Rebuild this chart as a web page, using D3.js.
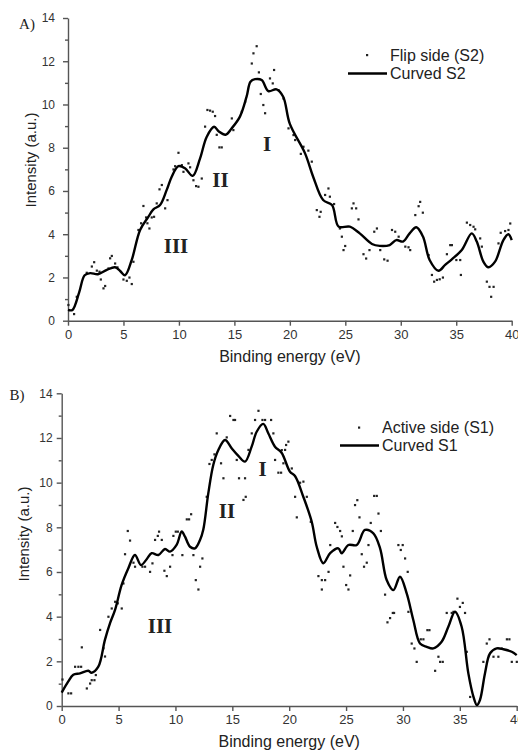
<!DOCTYPE html>
<html>
<head>
<meta charset="utf-8">
<script src="https://cdn.jsdelivr.net/npm/d3@7/dist/d3.min.js"></script>
<style>
  body { margin: 0; background: #fff; }
  svg { display: block; font-family: "Liberation Sans", Arial, sans-serif; }
</style>
</head>
<body>
<svg id="chart" width="518" height="751"></svg>
<script>
// axis ticks
const xTicks = [0, 5, 10, 15, 20, 25, 30, 35, 40];
const yTicks = [0, 2, 4, 6, 8, 10, 12, 14];
const yMinorTicks = [1, 3, 5, 7, 9, 11, 13];

// panel A: flip side (S2)
const s2Curve = [[0,0.5],[0.4,0.5],[1.0,1.3],[1.5,2.1],[2.0,2.2],[2.7,2.15],[3.5,2.35],[4.24,2.47],[4.7,2.3],[5.14,2.1],[5.74,2.8],
  [6.5,4.2],[7.24,4.8],[7.7,5.15],[8.3,5.35],[8.9,6.05],[9.35,6.66],[9.95,7.15],[10.55,7.05],[11.24,6.7],[11.9,7.5],[12.5,8.5],
  [13.17,8.97],[13.6,8.75],[14.2,8.6],[14.76,8.9],[15.5,9.44],[16.1,10.36],[16.45,11.05],[16.86,11.17],[17.46,11.13],[18.06,10.62],
  [18.8,10.7],[19.4,10.36],[20.0,9.1],[21.37,7.74],[22.1,6.66],[23.0,5.58],[23.8,5.35],[24.4,4.35],[25.4,4.35],[26.3,4.04],
  [27.4,3.55],[28.1,3.46],[29.0,3.5],[29.6,3.73],[30.2,3.66],[30.8,4.04],[31.4,4.32],[32.0,3.89],[32.6,2.81],[33.4,2.31],
  [34.0,2.58],[34.6,2.84],[35.5,3.27],[36.4,4.04],[36.85,3.66],[37.45,2.73],[37.9,2.47],[38.5,2.73],[39.25,3.73],[39.7,4.0],[40,3.73]];
const s2Points = [[0.03,0.73],[0.54,0.31],[0.78,1.11],[1.68,2.22],[2.14,2.51],[2.35,2.71],[2.59,2.32],[2.83,2.27],[2.95,1.91],
  [3.19,1.5],[3.34,1.61],[3.64,2.42],[3.79,2.89],[3.94,3.0],[4.24,2.65],[4.45,2.47],[4.99,1.91],[5.29,1.85],[5.53,2.0],[5.74,1.7],
  [5.89,2.73],[6.34,4.2],[6.58,4.51],[6.79,5.31],[7.03,4.78],[7.15,4.51],[7.33,4.27],[7.54,4.78],[7.75,4.81],[7.99,5.43],
  [8.24,6.08],[8.45,6.28],[8.75,5.2],[8.96,5.58],[9.5,7.0],[9.65,7.15],[9.95,7.77],[10.25,7.2],[10.4,6.89],[10.85,7.28],
  [11.0,7.1],[11.3,6.5],[11.54,6.23],[11.75,6.2],[12.05,6.58],[12.35,8.98],[12.56,9.75],[12.8,9.72],[13.04,9.67],[13.25,9.47],
  [13.4,8.6],[13.64,8.02],[13.85,8.02],[14.76,9.36],[14.9,8.82],[15.66,9.67],[15.96,10.13],[16.56,11.9],[16.71,12.37],[17.0,12.7],
  [17.2,11.49],[17.37,10.49],[17.6,9.98],[17.76,9.6],[18.2,11.21],[18.45,10.98],[18.57,11.6],[18.97,10.67],[19.42,10.28],
  [19.87,8.9],[20.32,8.59],[20.47,8.36],[20.98,7.72],[21.22,8.05],[21.66,7.87],[21.97,7.36],[22.42,5.12],[22.66,4.81],
  [22.77,5.04],[23.17,5.82],[23.47,6.12],[23.6,5.74],[23.98,5.4],[24.5,4.27],[24.68,3.89],[24.98,3.46],[24.83,3.27],[25.58,5.2],
  [25.73,5.43],[25.97,5.2],[26.18,4.69],[26.63,3.08],[26.87,2.88],[27.17,3.27],[27.6,4.12],[27.84,4.27],[28.14,3.27],[28.5,2.84],
  [28.8,2.78],[29.2,4.2],[29.49,4.12],[29.8,3.89],[30.4,3.43],[30.69,3.4],[30.84,3.27],[31.3,4.89],[31.6,5.3],[31.74,5.5],
  [31.98,5.0],[32.5,3.04],[32.8,2.12],[33.0,1.81],[33.25,1.89],[33.5,1.92],[33.79,2.0],[34.15,3.08],[34.45,3.5],[34.6,3.5],
  [35.0,2.81],[35.35,2.81],[35.41,2.12],[35.95,4.54],[36.25,4.43],[36.55,4.35],[36.7,4.23],[37.15,3.81],[37.3,3.43],[37.75,1.81],
  [37.99,1.57],[38.36,1.57],[38.14,1.11],[38.8,3.58],[39.0,4.07],[39.4,4.15],[39.7,4.2],[39.86,4.5]];
const s2Numerals = [["I", 17.94, 8.17], ["II", 13.75, 6.51], ["III", 9.74, 3.46]];

// panel B: active side (S1)
const s1Curve = [[0,0.6],[0.58,1.1],[1.02,1.4],[1.61,1.46],[2.34,1.58],[2.63,1.49],[3.22,1.76],[3.8,2.96],[4.25,3.71],[4.69,4.3],
  [5.27,5.42],[5.86,6.17],[6.44,6.76],[6.97,6.31],[7.47,6.57],[7.91,6.84],[8.5,6.76],[9.08,7.03],[9.52,6.91],[10.1,7.21],
  [10.55,7.81],[10.84,7.58],[11.28,7.13],[11.72,7.06],[12.16,7.43],[12.45,7.9],[12.89,9.53],[13.33,10.8],[13.77,11.46],
  [14.36,11.91],[14.94,11.54],[15.53,11.2],[16.11,10.94],[16.7,11.61],[17.14,12.28],[17.72,12.63],[18.16,12.21],[18.75,11.61],
  [19.33,11.34],[20.07,10.49],[20.51,10.3],[21.24,9.37],[21.98,8.25],[22.42,7.13],[23.0,6.39],[23.6,6.84],[24.32,7.06],
  [24.62,6.84],[25.2,7.21],[25.94,7.21],[26.66,7.88],[27.4,7.73],[27.99,7.06],[28.57,5.64],[29.16,5.19],[29.74,5.79],[30.33,5.04],
  [30.91,3.85],[31.5,2.8],[32.09,2.65],[32.67,2.58],[33.4,2.88],[33.99,3.55],[34.58,4.22],[35.16,3.55],[35.75,1.46],[36.2,0.41],
  [36.5,0.04],[36.77,0.27],[37.21,1.46],[37.66,2.36],[38.24,2.58],[38.83,2.54],[39.56,2.43],[40,2.28]];
const s1Points = [[0.06,1.19],[0.58,0.57],[0.82,0.57],[1.17,1.76],[1.46,1.76],[1.7,1.76],[1.76,2.63],[2.2,0.79],[2.49,1.01],
  [2.63,1.16],[2.87,1.16],[2.99,1.39],[3.37,3.41],[3.66,2.59],[3.8,2.22],[4.1,4.0],[4.39,4.37],[4.69,4.67],[4.92,4.6],[5.27,4.37],
  [5.42,5.49],[5.56,6.8],[5.8,7.84],[6.0,7.41],[6.3,6.42],[6.44,6.24],[7.09,6.24],[7.32,6.24],[7.76,6.01],[7.97,6.39],[8.2,7.44],
  [8.44,7.62],[8.55,7.81],[8.79,7.44],[9.02,6.06],[9.23,5.82],[9.52,6.24],[9.73,6.76],[9.81,7.62],[10.02,7.81],[10.2,7.81],
  [10.6,6.76],[10.99,8.36],[11.19,8.36],[11.37,8.59],[11.57,6.76],[11.78,5.64],[12.01,5.22],[12.16,6.24],[12.36,6.61],[12.74,9.37],
  [12.98,10.84],[13.18,11.02],[13.42,11.27],[13.62,12.21],[14.0,10.87],[14.21,10.2],[14.5,12.03],[14.8,12.99],[15.09,12.81],
  [15.23,12.81],[15.38,11.02],[15.58,10.2],[15.97,9.23],[16.11,10.2],[16.17,9.37],[16.41,11.47],[16.7,12.21],[16.99,12.81],
  [17.29,13.22],[17.64,12.81],[17.87,12.81],[18.4,12.81],[18.6,12.21],[18.75,11.02],[19.04,10.45],[19.28,10.45],[19.48,10.87],
  [19.63,11.47],[19.92,11.84],[19.34,11.46],[19.72,11.69],[20.22,10.64],[20.51,9.37],[20.66,8.45],[20.95,10.0],[21.24,10.05],
  [21.54,9.37],[21.89,8.25],[22.56,5.82],[22.86,5.64],[23.15,5.64],[23.45,6.01],[22.86,5.22],[23.6,7.21],[24.03,8.2],[24.23,8.02],
  [24.47,7.84],[24.62,7.6],[24.76,6.24],[25.0,5.42],[25.2,5.22],[25.35,5.85],[25.58,7.84],[25.78,9.0],[25.98,9.22],[26.17,8.45],
  [26.37,6.8],[26.57,6.24],[26.81,6.42],[26.96,7.21],[27.16,8.2],[27.46,9.41],[27.69,9.41],[27.84,8.62],[28.05,7.84],[28.42,4.99],
  [28.63,3.75],[28.86,3.94],[29.1,4.17],[29.21,4.17],[29.59,7.21],[29.97,7.21],[29.8,6.99],[30.18,6.61],[30.41,6.01],[30.47,4.22],
  [30.76,2.8],[31.0,2.58],[31.2,1.98],[31.56,2.99],[31.79,2.99],[32.14,3.4],[32.32,3.4],[32.82,1.58],[33.11,2.21],[33.26,1.98],
  [33.49,1.98],[33.84,4.17],[34.28,4.17],[34.43,4.22],[34.78,4.81],[35.0,4.44],[35.25,4.62],[35.45,4.17],[35.6,2.43],[35.9,0.41],
  [37.06,1.98],[37.36,2.8],[37.6,2.99],[37.95,2.21],[38.38,2.21],[38.68,2.58],[39.13,2.99],[39.35,2.99],[39.56,1.98],[40.0,1.98]];
const s1Numerals = [["I", 17.65, 10.61], ["II", 14.53, 8.75], ["III", 8.64, 3.58]];

const panels = [
  { tag: "A)", tagX: 27, tagY: 24, left: 68, right: 511.7, top: 18, bottom: 320.7,
    curve: s2Curve, points: s2Points, numerals: s2Numerals,
    pointLabel: "Flip side (S2)", curveLabel: "Curved S2",
    legX: 348, legY1: 55, legY2: 73.5, yTitleX: 36, yTitleY: 160, yPad: 8, xTitleY: 362 },
  { tag: "B)", tagX: 17, tagY: 395, left: 61.7, right: 516.7, top: 393.3, bottom: 706,
    curve: s1Curve, points: s1Points, numerals: s1Numerals,
    pointLabel: "Active side (S1)", curveLabel: "Curved S1",
    legX: 340, legY1: 427.5, legY2: 445.5, yTitleX: 29, yTitleY: 534, yPad: 4, xTitleY: 747 }
];

const svg = d3.select("#chart");

panels.forEach(function (p) {
  var x = d3.scaleLinear().domain([0, 40]).range([p.left, p.right]);
  var y = d3.scaleLinear().domain([0, 14]).range([p.bottom, p.top]);
  var g = svg.append("g");

  // axes
  var xAxis = g.append("g").attr("transform", "translate(0," + p.bottom + ")")
      .call(d3.axisBottom(x).tickValues(xTicks).tickSize(5).tickPadding(4).tickSizeOuter(0));
  var yAxis = g.append("g").attr("transform", "translate(" + p.left + ",0)")
      .call(d3.axisLeft(y).tickValues(yTicks).tickSize(5).tickPadding(p.yPad).tickSizeOuter(0));
  g.append("g").attr("transform", "translate(" + p.left + ",0)")
      .call(d3.axisLeft(y).tickValues(yMinorTicks).tickSize(3).tickFormat("").tickSizeOuter(0))
      .select(".domain").remove();
  g.selectAll(".domain, .tick line").attr("stroke", "#555").attr("stroke-width", 1.4);
  xAxis.selectAll("text").attr("font-size", 13).attr("fill", "#333")
      .attr("font-family", "Liberation Sans, Arial, sans-serif");
  yAxis.selectAll("text").attr("font-size", 12).attr("fill", "#333")
      .attr("font-family", "Liberation Sans, Arial, sans-serif");

  // axis titles
  g.append("text").attr("x", (p.left + p.right) / 2).attr("y", p.xTitleY)
      .attr("text-anchor", "middle").attr("font-size", 16).attr("fill", "#222")
      .text("Binding energy (eV)");
  g.append("text").attr("transform", "translate(" + p.yTitleX + "," + p.yTitleY + ") rotate(-90)")
      .attr("text-anchor", "middle").attr("font-size", 15).attr("fill", "#222")
      .text("Intensity (a.u.)");

  // panel tag
  g.append("text").attr("x", p.tagX).attr("y", p.tagY).attr("dy", "0.35em")
      .attr("text-anchor", "middle").attr("font-family", "Liberation Serif, Times New Roman, serif")
      .attr("font-size", 15).attr("fill", "#222").text(p.tag);

  // measured points
  g.append("g").selectAll("rect").data(p.points).join("rect")
      .attr("x", d => x(d[0]) - 1).attr("y", d => y(d[1]) - 1)
      .attr("width", 2.2).attr("height", 2.2).attr("fill", "#222");

  // fitted curve
  var line = d3.line().x(d => x(d[0])).y(d => y(d[1])).curve(d3.curveCatmullRom.alpha(0.5));
  g.append("path").datum(p.curve).attr("d", line)
      .attr("fill", "none").attr("stroke", "#000").attr("stroke-width", 2.4)
      .attr("stroke-linejoin", "round");

  // region numerals
  g.append("g").selectAll("text").data(p.numerals).join("text")
      .attr("x", d => x(d[1])).attr("y", d => y(d[2])).attr("dy", "0.35em")
      .attr("text-anchor", "middle").attr("font-family", "Liberation Serif, Times New Roman, serif")
      .attr("font-weight", "bold").attr("font-size", 21).attr("fill", "#222")
      .text(d => d[0]);

  // legend
  var leg = g.append("g");
  leg.append("rect").attr("x", p.legX + 18).attr("y", p.legY1 - 1).attr("width", 2.2).attr("height", 2.2).attr("fill", "#222");
  leg.append("text").attr("x", p.legX + 42).attr("y", p.legY1).attr("dy", "0.35em")
      .attr("font-size", 16).attr("fill", "#222").text(p.pointLabel);
  leg.append("line").attr("x1", p.legX).attr("x2", p.legX + 39).attr("y1", p.legY2).attr("y2", p.legY2)
      .attr("stroke", "#000").attr("stroke-width", 2.4);
  leg.append("text").attr("x", p.legX + 42).attr("y", p.legY2).attr("dy", "0.35em")
      .attr("font-size", 16).attr("fill", "#222").text(p.curveLabel);
});
</script>
</body>
</html>
